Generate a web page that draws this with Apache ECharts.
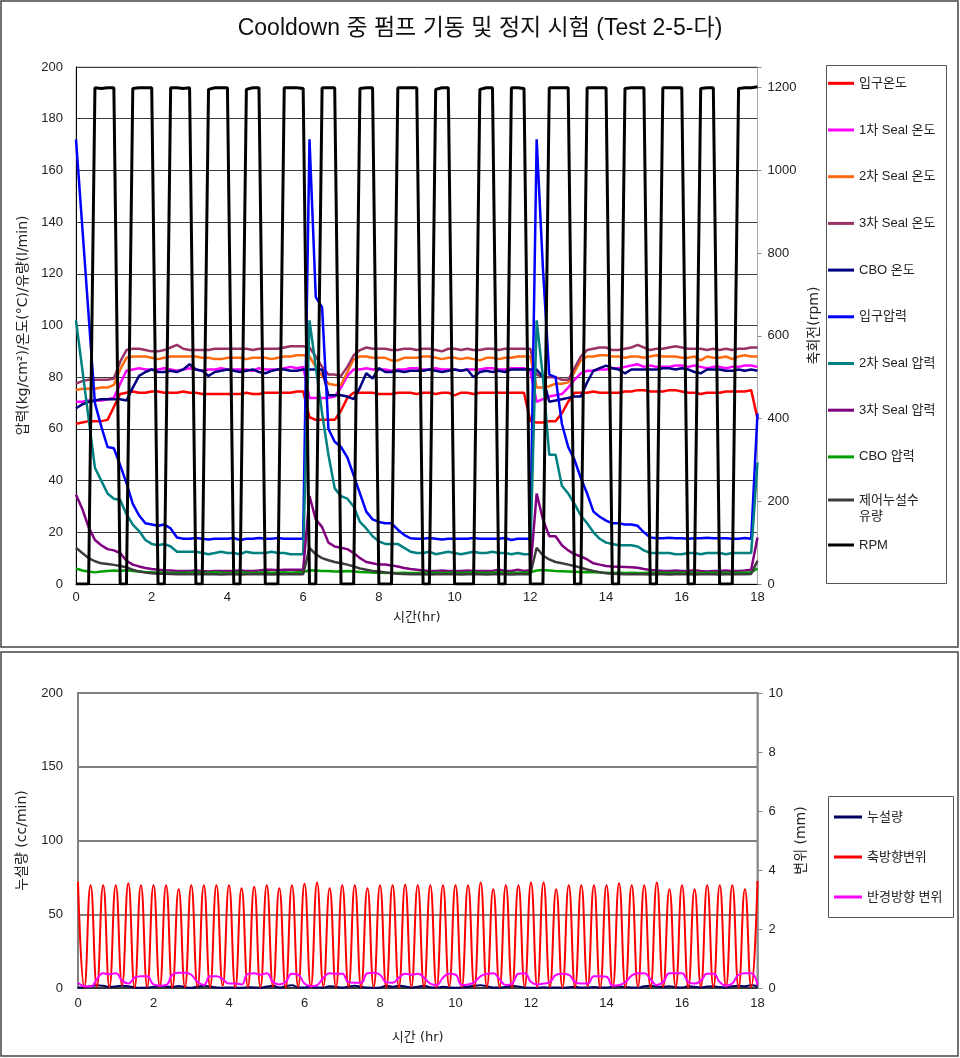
<!DOCTYPE html>
<html><head><meta charset="utf-8">
<script src="https://cdn.jsdelivr.net/npm/echarts@6/dist/echarts.min.js"></script>
<style>html,body{margin:0;padding:0;background:#fff}#c{width:960px;height:1058px}</style>
</head><body><div id="c"></div>
<script>
// ---- sample times (hr), 10-minute sampling ----
const timeHr = [
0,0.167,0.333,0.5,0.667,0.833, 1,1.167,1.333,1.5,1.667,1.833,
2,2.167,2.333,2.5,2.667,2.833, 3,3.167,3.333,3.5,3.667,3.833,
4,4.167,4.333,4.5,4.667,4.833, 5,5.167,5.333,5.5,5.667,5.833,
6,6.167,6.333,6.5,6.667,6.833, 7,7.167,7.333,7.5,7.667,7.833,
8,8.167,8.333,8.5,8.667,8.833, 9,9.167,9.333,9.5,9.667,9.833,
10,10.167,10.333,10.5,10.667,10.833, 11,11.167,11.333,11.5,11.667,11.833,
12,12.167,12.333,12.5,12.667,12.833, 13,13.167,13.333,13.5,13.667,13.833,
14,14.167,14.333,14.5,14.667,14.833, 15,15.167,15.333,15.5,15.667,15.833,
16,16.167,16.333,16.5,16.667,16.833, 17,17.167,17.333,17.5,17.667,17.833,
18];

// ---- top chart series ----
const rpm = [
0,0,0,1200,1198,1200, 1200,0,0,1198,1200,1200, 1200,0,0,1200,1200,1198,
1200,0,0,1196,1200,1200, 1200,0,0,1196,1200,1200, 0,0,0,1200,1200,1200,
1198,0,0,1200,1200,1200, 0,0,0,1198,1200,1200, 0,0,0,1200,1200,1200,
1200,0,0,1196,1200,1200, 0,0,0,0,1196,1200, 1200,0,0,1200,1200,1198,
0,0,0,1200,1200,1200, 1200,0,0,1200,1200,1200, 1200,0,0,1198,1200,1200,
1200,0,0,1200,1200,1200, 1200,0,0,1198,1200,1200, 0,0,0,1198,1200,1200,
1202];
const inletTemp = [
62,62.5,63,63,63,63.5, 68.5,73.5,74,74.5,74,74, 74.5,74.5,74,74,74,74.5,
74,74,73.5,73.5,73.5,73.5, 73.5,73.5,73.5,74,73.5,73.5, 74,74,74,74,74,74.5,
74.5,64.5,63.5,63.5,63.5,63.5, 67,72,74,74,74,74, 73.5,73.5,73.5,74,74,74,
73.5,74,74,73.5,74,74, 73,74,74,73.5,74,74, 74,74,74,74,74,74,
63,62.5,62.5,63,63,66, 70.5,74,74,74,74.5,74, 74,74,74,74.5,74.5,75,
75,74.5,74.5,74.5,75,75, 74.5,74,74,73.5,74,74, 74,74.5,74.5,74.5,74.5,75,
64];
const seal1Temp = [
70.5,70.5,71,71,71,71.5, 72,77.5,82.5,83,83.5,83, 83,83,83.5,83,82.5,83,
83.5,83,82.5,83,83,83.5, 83,83,83,83,82.5,83.5, 83,83,83,83.5,84,83.5,
84,72,72,72,72,72.5, 76,80.5,83,83,83.5,83, 83,83,82.5,83,83,83.5,
83.5,83,83,83.5,83,83, 83,82.5,83,83,83,83.5, 83.5,83,83,83.5,83.5,83.5,
82.5,70.5,71.5,72.5,73,73.5, 76,79,81.5,82.5,82.5,83, 83,83.5,83.5,84,84.5,85,
84,84.5,84,84,84,84.5, 84.5,84,84.5,84,83.5,84, 84,83.5,84,84,84.5,84.5,
84];
const seal2Temp = [
75,75.5,75.5,75.5,76,76, 77,83,87.5,88,88,88, 87.5,87,87.5,88,88,88,
88,88,87.5,87.5,87,87, 87.5,87.5,87.5,87,87.5,87.5, 87.5,87,87.5,88,88,88.5,
88.5,88,84,80.5,77.5,77, 77,82,87,88,88,87.5, 87.5,87.5,86.5,86.5,87.5,87.5,
87.5,88,88,87.5,87,87.5, 87.5,87,87.5,87,86.5,87.5, 87.5,87,87.5,87.5,88,88,
88,76,76,76.5,77.5,77.5, 78,82,86.5,88,88,88.5, 88.5,88,88,87.5,88,88,
87.5,88,88.5,88,88,88, 87.5,87.5,88,86.5,88,87.5, 87.5,88,87,88,88.5,88,
88];
const seal3Temp = [
77.5,78.5,79,79,79,79, 79.5,86,90.5,91,91,90.5, 90,90,90.5,91.5,92.5,91,
90.5,90.5,90.5,90.5,91,91, 91,91,91,91,90.5,91, 91,91,91,91.5,92,92,
92,91.5,88,84,81,81, 80.5,84,88.5,90.5,91.5,91, 91,91,90.5,90.5,91,91,
90.5,91,91,90.5,90,91, 91,90.5,91,90.5,90.5,91, 91,90.5,91,91,91,91,
91,81,80,80,80,79, 79,83.5,88,90.5,91,91.5, 91.5,90.5,90.5,91,91.5,92.5,
91.5,90.5,91,91,91.5,92, 91.5,91,91,91,90.5,91, 90.5,91,90.5,91,91,91.5,
91.5];
const cboTemp = [
68,69.5,70.5,71,71.5,71.5, 71.5,71.5,71,76,80.5,82, 83,82,82,82.5,82,83,
85,83,82.5,80.5,82,82.5, 83,82.5,82,82.5,83,82, 81.5,82.5,83,83,82.5,82.5,
83,83,83,83,73,73, 73,72.5,71.5,76,81.5,79.5, 83.5,82,82,82.5,82,82.5,
82.5,82.5,83,82.5,82,82.5, 83,82.5,83,80,82,82.5, 82,82.5,82,83,83,83,
83,83,80,70.5,71,71.5, 72,72.5,72.5,78,82.5,83.5, 84.5,83.5,83,81.5,83,83,
83,83,83,83.5,83.5,83, 83.5,83,82,81.5,83,83, 83,82.5,82.5,83,82.5,83,
82.5];
const inletPress = [
172,138,104,70,61,53, 52.5,46,39,31,26.5,23.5, 23,22.5,23,21.5,18,17.5,
17.5,17.8,17.5,17.2,17.5,17.5, 17.5,17.8,17,17.5,17.5,17.8, 17.5,17.5,17.8,17.5,17.5,17.5,
17.5,172,111,107,60,55, 53,49,42,35,28,25, 24,23.5,23.5,21,19,17.7,
17.5,17.5,17.8,17.5,17.2,17.5, 17.5,17.5,17.5,17.8,17.5,17.5, 17.5,17.5,17.8,17,17.5,17.5,
17.5,172,122,81,80,62, 53,48,41,35,28,26, 24.5,23.5,23.5,23,23,22.5,
20,18,17.7,17.7,17.9,17.7, 17.7,17.5,17.7,17.7,17.9,17.7, 17.7,17.7,17.5,17.5,17.8,17.5,
66];
const seal2Press = [
102,83,64,45,40,35, 33,32.5,27,23,20.5,17, 15.5,15,15.5,14.5,12.5,12.5,
12.5,12.5,12,11.5,12,12.5, 12,12,11.5,12.5,12,12, 12,12.5,12,12,11.5,11.5,
11.5,102,84,66,50,37, 34,33,30,24,21.5,18.5, 16.5,15.5,15.5,15.5,14,12.5,
12,12,12.5,11.5,12,12.5, 12,11.5,12,12.5,12,12, 12.5,12,12,11.5,12,11.5,
11.5,102,80,50,50,38, 35,31,26.5,23.5,20,17.5, 16,15.5,15,15,15,14.5,
13,12,12,12,12,11.5, 11.5,12,12,11.5,12,12, 12,11.5,12,12,12,12,
47];
const seal3Press = [
34.5,29,22,17,15,13.5, 13,12,9,7.5,6.8,6.2, 5.8,5.5,5.3,5.2,5,5,
5,5.2,5,4.8,5,5, 5,5,5.2,5,5,5.2, 5.5,5.5,5.3,5.5,5.5,5.5,
5.5,34,25,22,16,14.5, 14,13.5,12,10,8.5,8, 7.5,7.5,7.2,6.8,6.2,5.8,
5.5,5.2,5,5,5.2,5, 5,5,5.2,5,5,5, 5,5.5,5,5,5.5,5,
5.3,35,25,18.5,18.5,15, 13,11.5,10.7,9.5,8,7.5, 7,6.8,6.7,6.6,6.5,6.3,
5.8,5.4,5.2,5,5,5.2, 5,5,5.3,5,4.8,5, 5,5.2,5,5,5.2,5.5,
18];
const cboPress = [
6,5.2,4.8,4.5,4.8,5, 5.2,5,5.3,5,4.8,4.6, 4.5,4.4,4.5,4.3,4.3,4.4,
4.4,4.5,4.3,4.4,4.5,4.4, 4.3,4.4,4.5,4.4,4.3,4.4, 4.5,4.4,4.4,4.5,4.4,4.5,
4.6,5.3,5.2,5,5,4.8, 4.8,5,4.8,4.6,4.5,4.4, 4.4,4.3,4.4,4.3,4.4,4.3,
4.3,4.4,4.3,4.4,4.3,4.4, 4.4,4.3,4.4,4.5,4.4,4.3, 4.4,4.5,4.4,4.3,4.4,4.4,
4.5,5.2,5.4,5.2,5,4.9, 4.8,4.7,4.6,4.5,4.5,4.4, 4.4,4.3,4.4,4.3,4.4,4.3,
4.3,4.4,4.3,4.4,4.3,4.4, 4.4,4.3,4.4,4.3,4.4,4.4, 4.3,4.4,4.3,4.4,4.4,4.5,
6];
const ctrlLeakFlow = [
14,12,10,8.8,8,7.7, 7.4,7,6.5,5.5,4.8,4.4, 4.2,4,4,3.9,3.8,3.9,
3.8,3.8,3.9,3.8,3.8,3.7, 3.8,3.8,3.7,3.8,3.8,3.8, 3.8,3.7,3.8,3.8,3.8,3.8,
3.8,14,11.5,10,9.2,8.5, 8,7.5,6.8,6,5.5,5, 4.8,4.5,4.2,4,3.9,3.8,
3.8,3.8,3.7,3.8,3.8,3.8, 3.8,3.7,3.8,3.8,3.8,3.7, 3.8,3.8,3.8,3.7,3.8,3.8,
3.8,14,11,9.5,8.5,8, 7.5,7,6.3,5.6,5,4.6, 4.2,4,3.9,3.8,3.8,3.8,
3.8,3.7,3.8,3.8,3.7,3.8, 3.8,3.8,3.7,3.8,3.8,3.8, 3.7,3.8,3.8,3.8,3.8,3.9,
9];

// ---- bottom chart series ----
const leakCcMin = [
0.3,0.5,1.2,1.8,1.5,0.8, 1.0,1.6,1.2,0.4,0.2,0.3, 0.8,1.2,1.0,0.8,1.3,0.6,
0.2,1.0,1.5,1.0,0.3,0.2, 0.4,0.3,0.2,0.5,0.4,0.2, 1.0,1.5,0.3,1.2,1.8,0.5,
0.3,1.0,0.4,0.3,1.2,0.8, 0.3,1.0,1.5,0.8,0.3,0.2, 0.4,1.5,0.8,1.6,1.0,0.4,
0.8,1.5,0.5,0.3,0.8,0.4, 0.2,0.3,1.0,1.6,1.8,1.2, 0.4,0.3,0.8,1.5,1.0,0.3,
0.2,0.2,0.5,0.3,0.4,0.2, 0.5,0.8,0.3,0.4,0.6,0.3, 0.3,1.0,1.2,0.6,0.4,0.3,
1.2,1.5,1.0,0.8,1.2,0.6, 0.3,1.2,0.8,0.5,1.0,1.2, 0.6,0.4,1.2,1.5,1.2,1.8,
1.0];
const axialPeaksMm = [
3.6,3.48,3.48,3.48,3.55,3.48,3.48,3.48,3.35,3.48,
3.48,3.48,3.48,3.38,3.43,3.48,3.38,3.48,3.53,3.58,
3.38,3.48,3.48,3.38,3.48,3.48,3.5,3.48,3.48,3.48,
3.48,3.48,3.58,3.35,3.48,3.48,3.58,3.58,3.35,3.48,
3.48,3.48,3.48,3.55,3.48,3.48,3.58,3.35,3.48,3.35,
3.48,3.48,3.48,3.35,3.63];
const axialTroughsMm = [
0.02,0.05,0.03,0.1,0.02,0.04,0.05,0.02,0.03,0.05,
0.03,0.08,0.02,0.04,0.03,0.05,0.02,0.04,0.03,0.06,
0.02,0.05,0.03,0.04,0.02,0.03,0.05,0.04,0.02,0.06,
0.03,0.02,0.04,0.03,0.02,0.05,0.03,0.04,0.02,0.03,
0.06,0.02,0.04,0.03,0.05,0.02,0.04,0.03,0.02,0.05,
0.03,0.04,0.02,0.03];
const radialMm = [
0.18,0.06,0.05,0.3,0.5,0.47, 0.5,0.25,0.15,0.35,0.4,0.4, 0.12,0.08,0.1,0.45,0.52,0.52,
0.45,0.2,0.1,0.4,0.4,0.3, 0.15,0.15,0.12,0.48,0.5,0.45, 0.5,0.2,0.12,0.2,0.48,0.45,
0.15,0.06,0.1,0.35,0.5,0.48, 0.48,0.2,0.18,0.18,0.5,0.52, 0.45,0.2,0.18,0.35,0.48,0.45,
0.48,0.35,0.15,0.1,0.35,0.48, 0.45,0.1,0.12,0.2,0.4,0.48, 0.5,0.3,0.1,0.15,0.48,0.5,
0.2,0.12,0.15,0.2,0.45,0.48, 0.45,0.2,0.15,0.15,0.4,0.4, 0.38,0.08,0.1,0.2,0.42,0.5,
0.5,0.3,0.1,0.2,0.5,0.5, 0.5,0.2,0.15,0.25,0.48,0.48, 0.2,0.08,0.15,0.45,0.5,0.5,
0.1];

// ---- axis ticks / labels ----
const xTicks = {min:0, max:18, interval:2};
const topLeftTicks = {min:0, max:200, interval:20};
const topRightTicks = {min:0, max:1250, interval:200, lastLabel:1200};
const botLeftTicks = {min:0, max:200, interval:50};
const botRightTicks = {min:0, max:10, interval:2};

const FONT = "'Liberation Sans','Noto Sans CJK KR',sans-serif";
const NAME_FONT = "'DejaVu Sans','Noto Sans CJK KR',sans-serif";
const pairs = vals => vals.map((v, i) => [timeHr[i], v]);
const axialMm = [];
axialPeaksMm.forEach((p, k) => { axialMm.push(p); if (k < axialTroughsMm.length) axialMm.push(axialTroughsMm[k]); });

const topDefs = [
  ['입구온도', inletTemp], ['1차 Seal 온도', seal1Temp], ['2차 Seal 온도', seal2Temp],
  ['3차 Seal 온도', seal3Temp], ['CBO 온도', cboTemp], ['입구압력', inletPress],
  ['2차 Seal 압력', seal2Press], ['3차 Seal 압력', seal3Press], ['CBO 압력', cboPress],
  ['제어누설수 유량', ctrlLeakFlow]
];
const topColors = ['#FF0000','#FF00FF','#FF6A10','#993366','#000080','#0000FF','#008080','#800080','#00A000','#3C3C3C'];

const series = topDefs.map((d, i) => ({
  name: d[0], type: 'line', xAxisIndex: 0, yAxisIndex: 0, data: pairs(d[1]),
  symbol: 'none', showSymbol: false, lineStyle: {color: topColors[i], width: 2.5},
  itemStyle: {color: topColors[i]}, z: 2
}));
series.push({name:'RPM', type:'line', xAxisIndex:0, yAxisIndex:1, data: pairs(rpm),
  symbol:'none', showSymbol:false, lineStyle:{color:'#000', width:3}, itemStyle:{color:'#000'}, z:3});
series.push({name:'누설량', type:'line', xAxisIndex:1, yAxisIndex:2, data: pairs(leakCcMin), smooth:true,
  symbol:'none', showSymbol:false, lineStyle:{color:'#000060', width:2}, itemStyle:{color:'#000060'}});
series.push({name:'축방향변위', type:'line', xAxisIndex:1, yAxisIndex:3, data: pairs(axialMm), smooth:true,
  symbol:'none', showSymbol:false, lineStyle:{color:'#FF0000', width:2}, itemStyle:{color:'#FF0000'}});
series.push({name:'반경방향 변위', type:'line', xAxisIndex:1, yAxisIndex:3, data: pairs(radialMm), smooth:true,
  symbol:'none', showSymbol:false, lineStyle:{color:'#FF00FF', width:2}, itemStyle:{color:'#FF00FF'}});

const lbl = (extra) => Object.assign({color:'#222', fontSize:13, fontFamily:FONT}, extra || {});
const nameStyle = {color:'#222', fontSize:14, fontFamily:NAME_FONT};
const legendText = {color:'#222', fontSize:13, lineHeight:16, fontFamily:FONT};
const legendBase = {orient:'vertical', icon:'rect', itemWidth:26, itemHeight:3, padding:0, selectedMode:false, textStyle:legendText};

const option = {
  animation: false,
  backgroundColor: '#fff',
  textStyle: {fontFamily: FONT},
  title: {text:'Cooldown 중 펌프 기동 및 정지 시험 (Test 2-5-다)', left:'center', top:12,
    textStyle:{fontSize:23, fontWeight:'normal', color:'#111', fontFamily:FONT}},
  grid: [
    {left:76, top:67, width:681.5, height:517, show:true, borderColor:'#a8a8a8', borderWidth:1},
    {left:78, top:693, width:679.5, height:295, show:true, borderColor:'#8c8c8c', borderWidth:2}
  ],
  xAxis: [
    {gridIndex:0, type:'value', min:xTicks.min, max:xTicks.max, interval:xTicks.interval,
     name:'시간(hr)', nameLocation:'middle', nameGap:27, nameTextStyle:Object.assign({}, nameStyle, {fontSize:13}),
     axisLine:{show:true, lineStyle:{color:'#000', width:1}}, axisTick:{show:false},
     axisLabel:lbl({margin:7}), splitLine:{show:false}},
    {gridIndex:1, type:'value', min:xTicks.min, max:xTicks.max, interval:xTicks.interval,
     name:'시간 (hr)', nameLocation:'middle', nameGap:43, nameTextStyle:Object.assign({}, nameStyle, {fontSize:13}),
     axisLine:{show:true, lineStyle:{color:'#222', width:1.5}}, axisTick:{show:false},
     axisLabel:lbl({margin:9}), splitLine:{show:false}}
  ],
  yAxis: [
    {gridIndex:0, type:'value', position:'left', min:topLeftTicks.min, max:topLeftTicks.max, interval:topLeftTicks.interval,
     name:'압력(kg/cm²)/온도(°C)/유량(l/min)', nameLocation:'middle', nameGap:46, nameRotate:90, nameTextStyle:nameStyle,
     axisLine:{show:true, lineStyle:{color:'#000', width:1}}, axisTick:{show:false},
     axisLabel:lbl({margin:13}), splitLine:{show:true, lineStyle:{color:'#3c3c3c', width:1}}},
    {gridIndex:0, type:'value', position:'right', min:topRightTicks.min, max:topRightTicks.max, interval:topRightTicks.interval,
     name:'축회전(rpm)', nameLocation:'middle', nameGap:39, nameRotate:90, nameTextStyle:nameStyle,
     axisLine:{show:true, lineStyle:{color:'#a8a8a8', width:1}}, axisTick:{show:true, length:4, lineStyle:{color:'#888'}},
     axisLabel:lbl({margin:10, formatter: v => v > topRightTicks.lastLabel ? '' : String(v)}), splitLine:{show:false}},
    {gridIndex:1, type:'value', position:'left', min:botLeftTicks.min, max:botLeftTicks.max, interval:botLeftTicks.interval,
     name:'누설량 (cc/min)', nameLocation:'middle', nameGap:49, nameRotate:90, nameTextStyle:nameStyle,
     axisLine:{show:true, lineStyle:{color:'#808080', width:1.5}}, axisTick:{show:false},
     axisLabel:lbl({margin:15}), splitLine:{show:true, lineStyle:{color:'#808080', width:2}}},
    {gridIndex:1, type:'value', position:'right', min:botRightTicks.min, max:botRightTicks.max, interval:botRightTicks.interval,
     name:'변위 (mm)', nameLocation:'middle', nameGap:30, nameRotate:90, nameTextStyle:nameStyle,
     axisLine:{show:true, lineStyle:{color:'#8c8c8c', width:1.5}}, axisTick:{show:true, length:5, lineStyle:{color:'#888'}},
     axisLabel:lbl({margin:11}), splitLine:{show:false}}
  ],
  legend: [
    Object.assign({}, legendBase, {data: topDefs.slice(0, 9).map(d => d[0]), left:828, top:75.3, itemGap:30.7}),
    Object.assign({}, legendBase, {data: ['제어누설수 유량'], left:828, top:476,
      formatter: n => ' \n제어누설수\n유량'}),
    Object.assign({}, legendBase, {data:['RPM'], left:828, top:537}),
    Object.assign({}, legendBase, {data:['누설량','축방향변위','반경방향 변위'], left:834, top:809, itemWidth:28, itemGap:24})
  ],
  graphic: [
    {type:'rect', silent:true, shape:{x:1, y:1, width:957, height:646}, style:{fill:'none', stroke:'#444', lineWidth:1.5}},
    {type:'rect', silent:true, shape:{x:1, y:652, width:957, height:404}, style:{fill:'none', stroke:'#444', lineWidth:1.5}},
    {type:'rect', silent:true, shape:{x:826.5, y:65.5, width:120, height:518}, style:{fill:'none', stroke:'#555', lineWidth:1}},
    {type:'rect', silent:true, shape:{x:828.5, y:796.5, width:125, height:121}, style:{fill:'none', stroke:'#555', lineWidth:1}}
  ],
  series: series
};
const chart = echarts.init(document.getElementById('c'));
chart.setOption(option);
</script>
</body></html>
